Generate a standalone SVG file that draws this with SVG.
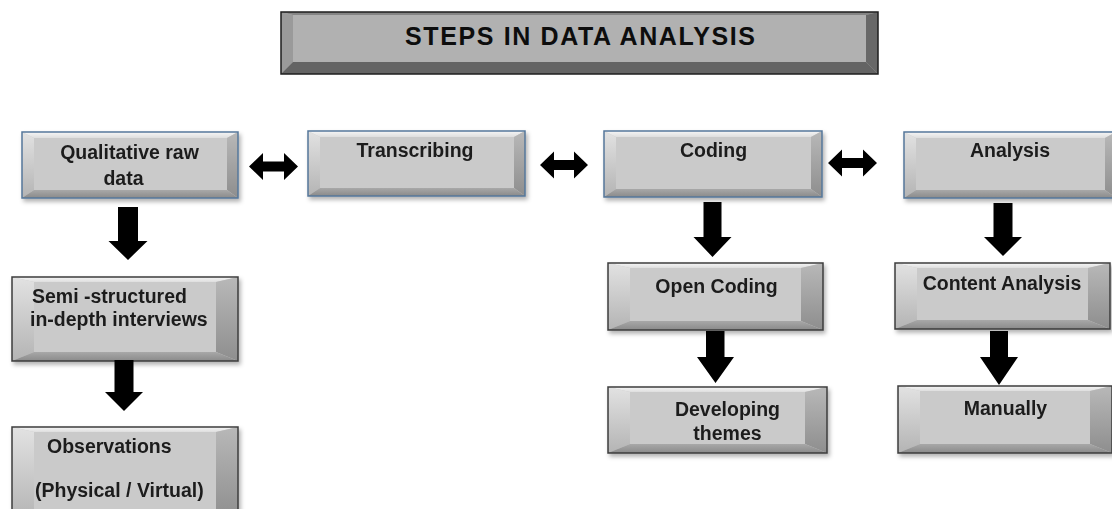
<svg xmlns="http://www.w3.org/2000/svg" width="1112" height="509" viewBox="0 0 1112 509">
  <defs>
    <!-- bevel shading -->
    <linearGradient id="gTop" x1="0" y1="0" x2="0" y2="1">
      <stop offset="0" stop-color="#f6f6f6"/>
      <stop offset="1" stop-color="#dedede"/>
    </linearGradient>
    <linearGradient id="gLeft" x1="0" y1="0" x2="0" y2="1">
      <stop offset="0" stop-color="#e2e2e2"/>
      <stop offset="1" stop-color="#b4b4b4"/>
    </linearGradient>
    <linearGradient id="gRight" x1="0" y1="0" x2="0" y2="1">
      <stop offset="0" stop-color="#b8b8b8"/>
      <stop offset="1" stop-color="#8e8e8e"/>
    </linearGradient>
    <linearGradient id="gBottom" x1="0" y1="0" x2="0" y2="1">
      <stop offset="0" stop-color="#a8a8a8"/>
      <stop offset="1" stop-color="#8a8a8a"/>
    </linearGradient>
    <filter id="shadow" x="-5%" y="-10%" width="112%" height="130%">
      <feDropShadow dx="2" dy="3" stdDeviation="2" flood-color="#000" flood-opacity="0.3"/>
    </filter>
  </defs>
  <style>
    .bt { fill: url(#gTop); }
    .bl { fill: url(#gLeft); }
    .br { fill: url(#gRight); }
    .bb { fill: url(#gBottom); }
    .face { fill: #cacaca; }
    .edgeBlue { fill: none; stroke: #56779a; stroke-width: 1.5; }
    .edgeDark { fill: none; stroke: #3c3c3c; stroke-width: 1.5; }
    .box { filter: url(#shadow); }
    .lbl { font-family: "Liberation Sans", Arial, sans-serif; font-weight: bold; font-size: 19.5px; fill: #1c1c1c; }
    .mid { text-anchor: middle; }
    .title { font-family: "Liberation Sans", Arial, sans-serif; font-weight: bold; font-size: 25px; fill: #0d0d0d; text-anchor: middle; }
    .arrow { fill: #000; }
  </style>

  <rect width="1112" height="509" fill="#ffffff"/>

  <!-- title bar -->
  <g id="title">
    <rect x="281" y="12" width="597" height="62" fill="#b1b1b1"/>
    <polygon points="281,12 878,12 866,15 293,15" fill="#858585"/>
    <polygon points="281,12 293,15 293,62 281,74" fill="#9a9a9a"/>
    <polygon points="878,12 878,74 866,62 866,15" fill="#686868"/>
    <polygon points="281,74 293,62 866,62 878,74" fill="#646464"/>
    <rect x="281" y="12" width="597" height="62" fill="none" stroke="#1e1e1e" stroke-width="1.5"/>
    <text class="title" x="580" y="45" textLength="350" lengthAdjust="spacing">STEPS IN DATA ANALYSIS</text>
  </g>

  <!-- top row -->
  <g id="raw-data" class="box">
    <rect class="face" x="22" y="132" width="216" height="66"/>
    <polygon class="bt" points="22,132 238,132 227,138 34,138"/>
    <polygon class="bl" points="22,132 34,138 34,190 22,198"/>
    <polygon class="br" points="238,132 238,198 227,190 227,138"/>
    <polygon class="bb" points="22,198 34,190 227,190 238,198"/>
    <rect class="edgeBlue" x="22" y="132" width="216" height="66"/>
    <text class="lbl mid" x="129.5" y="159">Qualitative raw</text>
    <text class="lbl mid" x="123.5" y="185">data</text>
  </g>

  <g id="transcribing" class="box">
    <rect class="face" x="308" y="131" width="217" height="65"/>
    <polygon class="bt" points="308,131 525,131 514,137 320,137"/>
    <polygon class="bl" points="308,131 320,137 320,188 308,196"/>
    <polygon class="br" points="525,131 525,196 514,188 514,137"/>
    <polygon class="bb" points="308,196 320,188 514,188 525,196"/>
    <rect class="edgeBlue" x="308" y="131" width="217" height="65"/>
    <text class="lbl mid" x="415" y="157">Transcribing</text>
  </g>

  <g id="coding" class="box">
    <rect class="face" x="604" y="131" width="218" height="66"/>
    <polygon class="bt" points="604,131 822,131 811,137 616,137"/>
    <polygon class="bl" points="604,131 616,137 616,189 604,197"/>
    <polygon class="br" points="822,131 822,197 811,189 811,137"/>
    <polygon class="bb" points="604,197 616,189 811,189 822,197"/>
    <rect class="edgeBlue" x="604" y="131" width="218" height="66"/>
    <text class="lbl mid" x="713.5" y="157">Coding</text>
  </g>

  <g id="analysis" class="box">
    <rect class="face" x="904" y="132" width="212" height="66"/>
    <polygon class="bt" points="904,132 1116,132 1105,138 916,138"/>
    <polygon class="bl" points="904,132 916,138 916,190 904,198"/>
    <polygon class="br" points="1116,132 1116,198 1105,190 1105,138"/>
    <polygon class="bb" points="904,198 916,190 1105,190 1116,198"/>
    <rect class="edgeBlue" x="904" y="132" width="212" height="66"/>
    <text class="lbl mid" x="1010" y="157">Analysis</text>
  </g>

  <!-- left column -->
  <g id="interviews" class="box">
    <rect class="face" x="12" y="277" width="226" height="84"/>
    <polygon class="bt" points="12,277 238,277 216,282 34,282"/>
    <polygon class="bl" points="12,277 34,282 34,352 12,361"/>
    <polygon class="br" points="238,277 238,361 216,352 216,282"/>
    <polygon class="bb" points="12,361 34,352 216,352 238,361"/>
    <rect class="edgeDark" x="12" y="277" width="226" height="84"/>
    <text class="lbl" x="32" y="303">Semi -structured</text>
    <text class="lbl" x="30" y="326">in-depth interviews</text>
  </g>

  <g id="observations" class="box">
    <rect class="face" x="12" y="427" width="226" height="93"/>
    <polygon class="bt" points="12,427 238,427 216,432 34,432"/>
    <polygon class="bl" points="12,427 34,432 34,511 12,520"/>
    <polygon class="br" points="238,427 238,520 216,511 216,432"/>
    <rect class="edgeDark" x="12" y="427" width="226" height="93"/>
    <text class="lbl" x="47" y="453">Observations</text>
    <text class="lbl" x="35" y="497">(Physical / Virtual)</text>
  </g>

  <!-- coding column -->
  <g id="open-coding" class="box">
    <rect class="face" x="608" y="263" width="215" height="67"/>
    <polygon class="bt" points="608,263 823,263 801,268 630,268"/>
    <polygon class="bl" points="608,263 630,268 630,321 608,330"/>
    <polygon class="br" points="823,263 823,330 801,321 801,268"/>
    <polygon class="bb" points="608,330 630,321 801,321 823,330"/>
    <rect class="edgeDark" x="608" y="263" width="215" height="67"/>
    <text class="lbl mid" x="716.5" y="293">Open Coding</text>
  </g>

  <g id="themes" class="box">
    <rect class="face" x="608" y="387" width="219" height="66"/>
    <polygon class="bt" points="608,387 827,387 805,392 630,392"/>
    <polygon class="bl" points="608,387 630,392 630,444 608,453"/>
    <polygon class="br" points="827,387 827,453 805,444 805,392"/>
    <polygon class="bb" points="608,453 630,444 805,444 827,453"/>
    <rect class="edgeDark" x="608" y="387" width="219" height="66"/>
    <text class="lbl mid" x="727.5" y="416">Developing</text>
    <text class="lbl mid" x="727.5" y="440">themes</text>
  </g>

  <!-- analysis column -->
  <g id="content-analysis" class="box">
    <rect class="face" x="895" y="263" width="215" height="66"/>
    <polygon class="bt" points="895,263 1110,263 1088,268 917,268"/>
    <polygon class="bl" points="895,263 917,268 917,320 895,329"/>
    <polygon class="br" points="1110,263 1110,329 1088,320 1088,268"/>
    <polygon class="bb" points="895,329 917,320 1088,320 1110,329"/>
    <rect class="edgeDark" x="895" y="263" width="215" height="66"/>
    <text class="lbl mid" x="1002" y="290">Content Analysis</text>
  </g>

  <g id="manually" class="box">
    <rect class="face" x="898" y="386" width="214" height="67"/>
    <polygon class="bt" points="898,386 1112,386 1090,391 920,391"/>
    <polygon class="bl" points="898,386 920,391 920,444 898,453"/>
    <polygon class="br" points="1112,386 1112,453 1090,444 1090,391"/>
    <polygon class="bb" points="898,453 920,444 1090,444 1112,453"/>
    <rect class="edgeDark" x="898" y="386" width="214" height="67"/>
    <text class="lbl mid" x="1005.5" y="415">Manually</text>
  </g>

  <!-- connectors -->
  <g id="connectors">
    <!-- two-way block arrows between the top-row steps -->
    <polygon class="arrow" points="249,166.5 263,153 263,161.5 284,161.5 284,153 298,166.5 284,180 284,171.5 263,171.5 263,180"/>
    <polygon class="arrow" points="540,165 554,151.5 554,160 574,160 574,151.5 588,165 574,178.5 574,170 554,170 554,178.5"/>
    <polygon class="arrow" points="828,163 842,149.5 842,158 863,158 863,149.5 877,163 863,176.5 863,168 842,168 842,176.5"/>
    <!-- downward block arrows -->
    <polygon class="arrow" points="118,207 138,207 138,241 147.5,241 128,260 108.5,241 118,241"/>
    <polygon class="arrow" points="114.5,360 133.5,360 133.5,392 143,392 124,411 105,392 114.5,392"/>
    <polygon class="arrow" points="703.5,202 721.5,202 721.5,237 731.5,237 712.5,257 693.5,237 703.5,237"/>
    <polygon class="arrow" points="993.5,203 1012.5,203 1012.5,237 1022,237 1003,256 984,237 993.5,237"/>
    <polygon class="arrow" points="706,331 724.5,331 724.5,357 734,357 715.5,383 697,357 706,357"/>
    <polygon class="arrow" points="990,331 1008,331 1008,357 1018,357 999,385 980,357 990,357"/>
  </g>
</svg>
